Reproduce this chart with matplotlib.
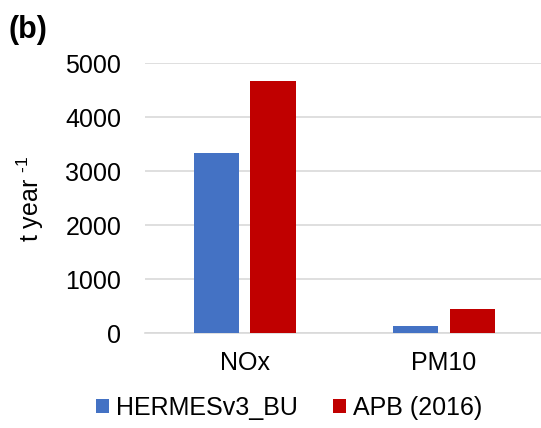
import numpy as np
import matplotlib.pyplot as plt

plt.rcParams['font.family'] = ['Liberation Sans', 'DejaVu Sans']
plt.rcParams['mathtext.fontset'] = 'custom'
plt.rcParams['mathtext.rm'] = 'Liberation Sans'

pollutants = ['NOx', 'PM10']
series_names = ['HERMESv3_BU', 'APB (2016)']
hermes = [3333, 135]
apb = [4675, 450]
colors = ['#4472C4', '#C00000']
yticks = [0, 1000, 2000, 3000, 4000, 5000]

fig = plt.figure(figsize=(5.41, 4.28), dpi=100)
ax = fig.add_axes([0.268, 0.2213, 0.737, 0.6308])

x = np.arange(len(pollutants))
w = 0.226
off = 0.142
ax.bar(x - off, hermes, w, color=colors[0], label=series_names[0], zorder=3)
ax.bar(x + off, apb, w, color=colors[1], label=series_names[1], zorder=3)

ax.set_xlim(-0.5, 1.5)
ax.set_ylim(0, 5000)
ax.set_yticks(yticks)
ax.set_xticks(x)
ax.set_xticklabels(pollutants)
ax.grid(axis='y', color='#D9D9D9', linewidth=1.2, zorder=0)
for s in ['top', 'right', 'left']:
    ax.spines[s].set_visible(False)
ax.spines['bottom'].set_color('#D9D9D9')
ax.spines['bottom'].set_linewidth(1.2)
ax.tick_params(axis='y', length=0, pad=17, labelsize=18)
ax.tick_params(axis='x', length=0, pad=13, labelsize=18)
ax.set_ylabel('t year $^{\\text{-1}}$', fontsize=18, labelpad=14)

fig.legend(loc='center', bbox_to_anchor=(0.535, 0.047), ncol=2, frameon=False,
           fontsize=18, handlelength=0.5, handleheight=0.5, handletextpad=0.3,
           columnspacing=1.4)

fig.text(0.015, 0.912, '(b)', fontsize=22, fontweight='bold')

fig.savefig('out.png', dpi=100)
